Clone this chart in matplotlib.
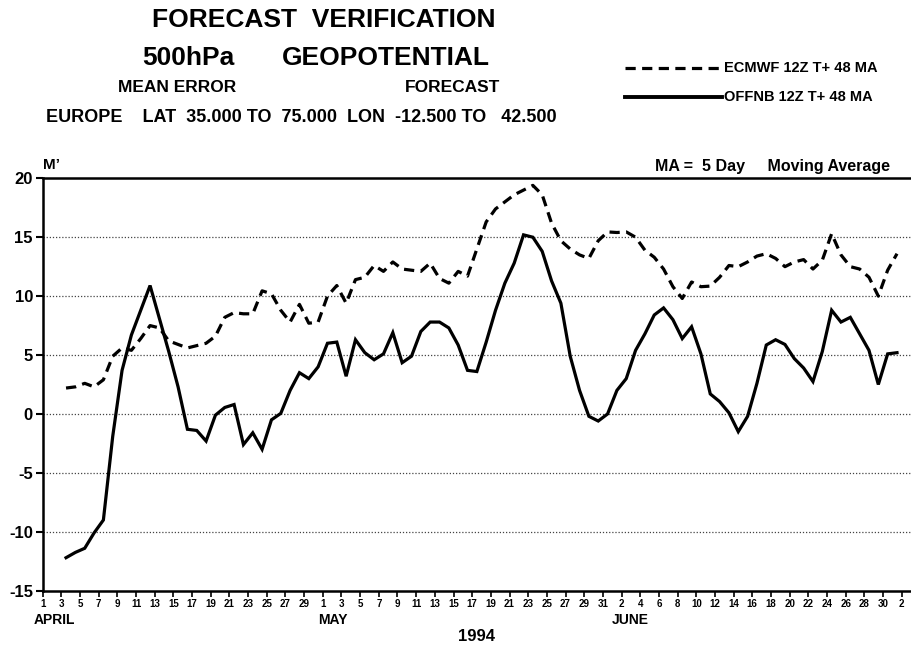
import numpy as np
import pandas as pd
import matplotlib
matplotlib.use("Agg")
import matplotlib.pyplot as plt
from matplotlib.lines import Line2D

plt.rcParams['font.family'] = ['Liberation Sans', 'DejaVu Sans']
plt.rcParams['font.weight'] = 'bold'

# ---- data (5-day moving average of mean error, 12Z, T+48) ----
dates = pd.date_range("1994-04-03 12:00", "1994-07-01 12:00", freq="D")

ecmwf = [2.2, 2.3, 2.6, 2.3, 2.9, 4.9, 5.6, 5.4, 6.4, 7.5,
         7.3, 6.2, 5.9, 5.6, 5.8, 6.0, 6.6, 8.2, 8.6, 8.5,
         8.5, 10.45, 10.2, 8.8, 7.8, 9.3, 7.7, 7.8, 10.0, 10.9,
         9.4, 11.4, 11.6, 12.6, 12.1, 12.9, 12.3, 12.2, 12.1, 12.8,
         11.5, 11.1, 12.1, 11.7, 14.0, 16.3, 17.4, 18.0, 18.6, 19.0,
         19.4, 18.6, 16.2, 14.7, 14.0, 13.5, 13.2, 14.7, 15.45, 15.4,
         15.45, 15.0, 13.9, 13.3, 12.3, 10.8, 9.8, 11.2, 10.8, 10.85,
         11.6, 12.6, 12.5, 12.9, 13.4, 13.6, 13.2, 12.5, 12.9, 13.1,
         12.3, 13.05, 15.3, 13.5, 12.5, 12.3, 11.6, 10.0, 12.2, 13.6]

offnb = [-12.2, -11.75, -11.4, -10.1, -9.0, -1.9, 3.7, 6.7, 8.8, 10.9,
         8.1, 5.3, 2.3, -1.3, -1.4, -2.3, -0.1, 0.55, 0.8, -2.6,
         -1.6, -3.0, -0.5, 0.05, 2.0, 3.5, 3.0, 4.0, 6.0, 6.1,
         3.2, 6.3, 5.2, 4.6, 5.1, 6.9, 4.35, 4.9, 7.0, 7.8,
         7.8, 7.3, 5.85, 3.7, 3.6, 6.1, 8.8, 11.1, 12.8, 15.2,
         15.0, 13.8, 11.3, 9.4, 4.9, 2.0, -0.2, -0.6, 0.0, 2.0,
         3.0, 5.4, 6.8, 8.4, 9.0, 8.0, 6.4, 7.4, 5.1, 1.7,
         1.05, 0.1, -1.5, -0.2, 2.6, 5.85, 6.3, 5.9, 4.7, 3.9,
         2.75, 5.3, 8.8, 7.8, 8.2, 6.8, 5.4, 2.5, 5.1, 5.2]

y_ticks = [-15, -10, -5, 0, 5, 10, 15, 20]
x_ticks = pd.date_range("1994-04-01", "1994-07-02", freq="2D")
months = ["APRIL", "MAY", "JUNE"]
month_pos = [pd.Timestamp("1994-03-31"), pd.Timestamp("1994-04-30 12:00"), pd.Timestamp("1994-06-01")]

W, H = 912, 648
fig = plt.figure(figsize=(W / 100, H / 100), dpi=100)

def fx(px):
    return px / W

def fy(py):
    return 1 - py / H

ax = fig.add_axes([fx(42.7), fy(590.7), fx(911) - fx(42.7), fy(178.3) - fy(590.7)])

ax.plot(dates, ecmwf, color='black', lw=2.3, linestyle=(0, (3.2, 2.0)), solid_capstyle='butt')
ax.plot(dates, offnb, color='black', lw=2.3, solid_joinstyle='miter')

ax.set_ylim(-15, 20)
ax.set_xlim(pd.Timestamp("1994-04-01"), pd.Timestamp("1994-07-03"))
ax.set_yticks(y_ticks)
ax.set_yticklabels([str(v) for v in y_ticks], fontsize=12, fontweight='bold')
ax.set_xticks(x_ticks)
ax.set_xticklabels([str(d.day) for d in x_ticks], fontsize=7, fontweight='bold')
ax.tick_params(axis='y', direction='out', length=5, width=1.5, pad=2)
ax.tick_params(axis='x', direction='out', length=4, width=1.2, pad=2)

for v in y_ticks[1:-1]:
    ax.axhline(v, color='#444444', lw=0.9, linestyle=(0, (1, 1.5)), zorder=0)

ax.spines['right'].set_visible(False)
for s in ['left', 'bottom', 'top']:
    ax.spines[s].set_linewidth(1.8)

for name, pos in zip(months, month_pos):
    ax.text(pos, -16.9, name, transform=ax.transData,
            fontsize=10, fontweight='bold', ha='left', va='top')

ax.text(0.5, -0.112, "1994", transform=ax.transAxes, ha='center', va='center',
        fontsize=12, fontweight='bold')
ax.text(0.0, 1.015, "M\u2019", transform=ax.transAxes, ha='left', va='bottom',
        fontsize=11, fontweight='bold')
ax.text(fx(890), fy(167), "MA =  5 Day     Moving Average", transform=fig.transFigure,
        ha='right', va='center', fontsize=11.5, fontweight='bold')

# ---- header ----
fig.text(fx(324), fy(20), "FORECAST  VERIFICATION", ha='center', va='center', fontsize=19, fontweight='bold')
fig.text(fx(188), fy(58), "500hPa", ha='center', va='center', fontsize=19, fontweight='bold')
fig.text(fx(386), fy(58), "GEOPOTENTIAL", ha='center', va='center', fontsize=19, fontweight='bold')
fig.text(fx(177), fy(88), "MEAN ERROR", ha='center', va='center', fontsize=12.5, fontweight='bold')
fig.text(fx(453), fy(88), "FORECAST", ha='center', va='center', fontsize=12.5, fontweight='bold')
fig.text(fx(46), fy(117), "EUROPE    LAT  35.000 TO  75.000  LON  -12.500 TO   42.500",
         ha='left', va='center', fontsize=13, fontweight='bold')

# ---- legend ----
fig.add_artist(Line2D([fx(625), fx(722)], [fy(68), fy(68)], transform=fig.transFigure,
                      color='black', lw=2.3, linestyle=(0, (3.2, 2.0))))
fig.add_artist(Line2D([fx(625), fx(722)], [fy(97), fy(97)], transform=fig.transFigure,
                      color='black', lw=2.8))
fig.text(fx(724), fy(68), "ECMWF 12Z T+ 48 MA", ha='left', va='center', fontsize=10.5, fontweight='bold')
fig.text(fx(724), fy(97), "OFFNB 12Z T+ 48 MA", ha='left', va='center', fontsize=10.5, fontweight='bold')

fig.savefig("out.png", dpi=100)
